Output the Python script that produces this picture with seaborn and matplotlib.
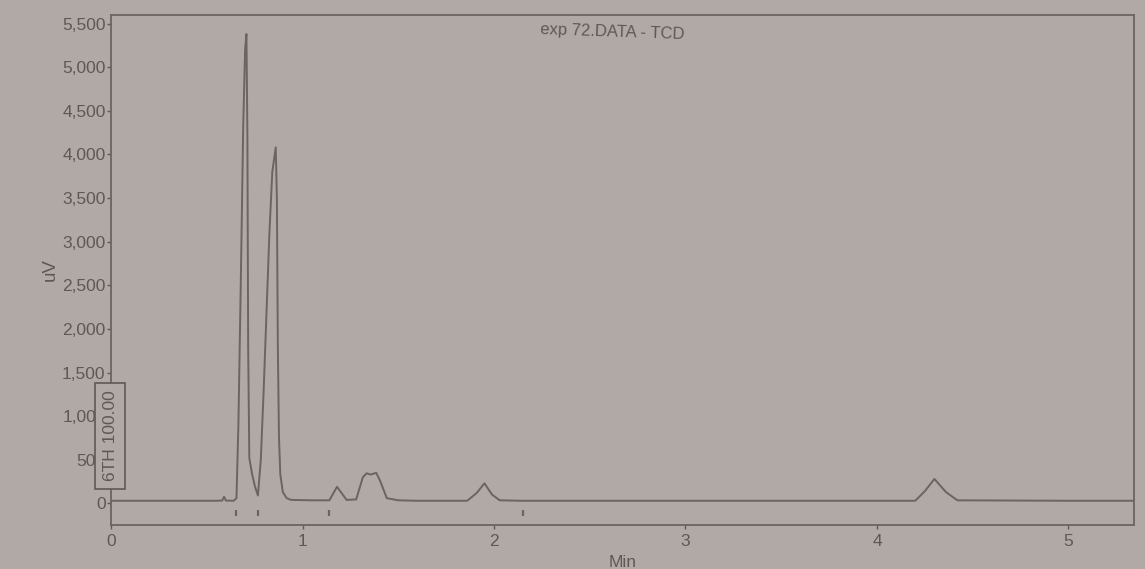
import matplotlib
matplotlib.use("Agg")
import matplotlib.pyplot as plt
import seaborn as sns
import pandas as pd
from matplotlib.ticker import FuncFormatter

times = [0.00, 0.55, 0.58, 0.59, 0.60, 0.64, 0.655, 0.665, 0.678, 0.69, 0.70, 0.707,
         0.712, 0.716, 0.722, 0.737, 0.752, 0.767, 0.782, 0.797, 0.812, 0.827, 0.842, 0.86,
         0.866, 0.871, 0.877, 0.884, 0.897, 0.917, 0.94, 1.05, 1.14, 1.18, 1.23, 1.28,
         1.315, 1.335, 1.355, 1.385, 1.405, 1.44, 1.50, 1.60, 1.86, 1.91, 1.95, 1.99, 2.03,
         2.15, 3.00, 4.20, 4.25, 4.30, 4.36, 4.42, 5.00, 5.34]
signal = [30, 30, 32, 75, 32, 30, 60, 900, 2600, 4300, 5200, 5380,
          4200, 1800, 520, 330, 190, 90, 500, 1300, 2200, 3100, 3800, 4080,
          3500, 1800, 750, 330, 130, 60, 40, 35, 35, 190, 40, 45,
          300, 345, 330, 350, 260, 60, 35, 30, 30, 120, 230, 100, 35,
          30, 30, 30, 140, 280, 130, 35, 30, 30]

# Integration event marks below the baseline
event_times = [0.655, 0.767, 1.14, 2.15]
event_level = [-110, -110, -110, -110]

y_ticks = [0, 500, 1000, 1500, 2000, 2500, 3000, 3500, 4000, 4500, 5000, 5500]
x_ticks = [0, 1, 2, 3, 4, 5]

title_text = "exp 72.DATA - TCD"
box_text = "6TH 100.00"

bg = "#b0a9a6"
ink = "#5e5857"
line_c = "#6a6462"

sns.set_theme(style="ticks")
plt.rcParams["font.family"] = ["Liberation Sans", "DejaVu Sans"]

fig = plt.figure(figsize=(11.45, 5.69), dpi=100, facecolor=bg)
ax = fig.add_axes([0.097, 0.077, 0.893, 0.897])
ax.set_facecolor(bg)

df = pd.DataFrame({"Min": times, "uV": signal})
sns.lineplot(data=df, x="Min", y="uV", ax=ax, color=line_c, linewidth=1.4,
             sort=False, estimator=None)
ax.plot(event_times, event_level, linestyle="none", marker="|", markersize=5,
        color=line_c, markeredgewidth=1.6)

ax.set_xlim(0, 5.34)
ax.set_ylim(-250, 5600)
ax.set_xticks(x_ticks)
ax.set_yticks(y_ticks)
ax.yaxis.set_major_formatter(FuncFormatter(lambda v, p: f"{int(v):,}"))
ax.tick_params(axis="both", colors=ink, labelsize=12.5, length=3, width=1)
ax.tick_params(axis="y", pad=1)
ax.set_xlabel("Min", color=ink, fontsize=12.5, labelpad=4)
ax.set_ylabel("uV", color=ink, fontsize=13.5, labelpad=2)
for s in ax.spines.values():
    s.set_color(line_c)
    s.set_linewidth(1.3)

ax.text(0.49, 0.985, title_text, transform=ax.transAxes, ha="center", va="top",
        fontsize=12, color=ink, rotation=-2)

ax.text(-0.001, 0.175, box_text, transform=ax.transAxes, ha="center", va="center",
        rotation=90, fontsize=12.5, color=ink,
        bbox=dict(boxstyle="square,pad=0.45", facecolor=bg, edgecolor=ink, linewidth=1.2))

fig.savefig("out.png", dpi=100, facecolor=bg)
